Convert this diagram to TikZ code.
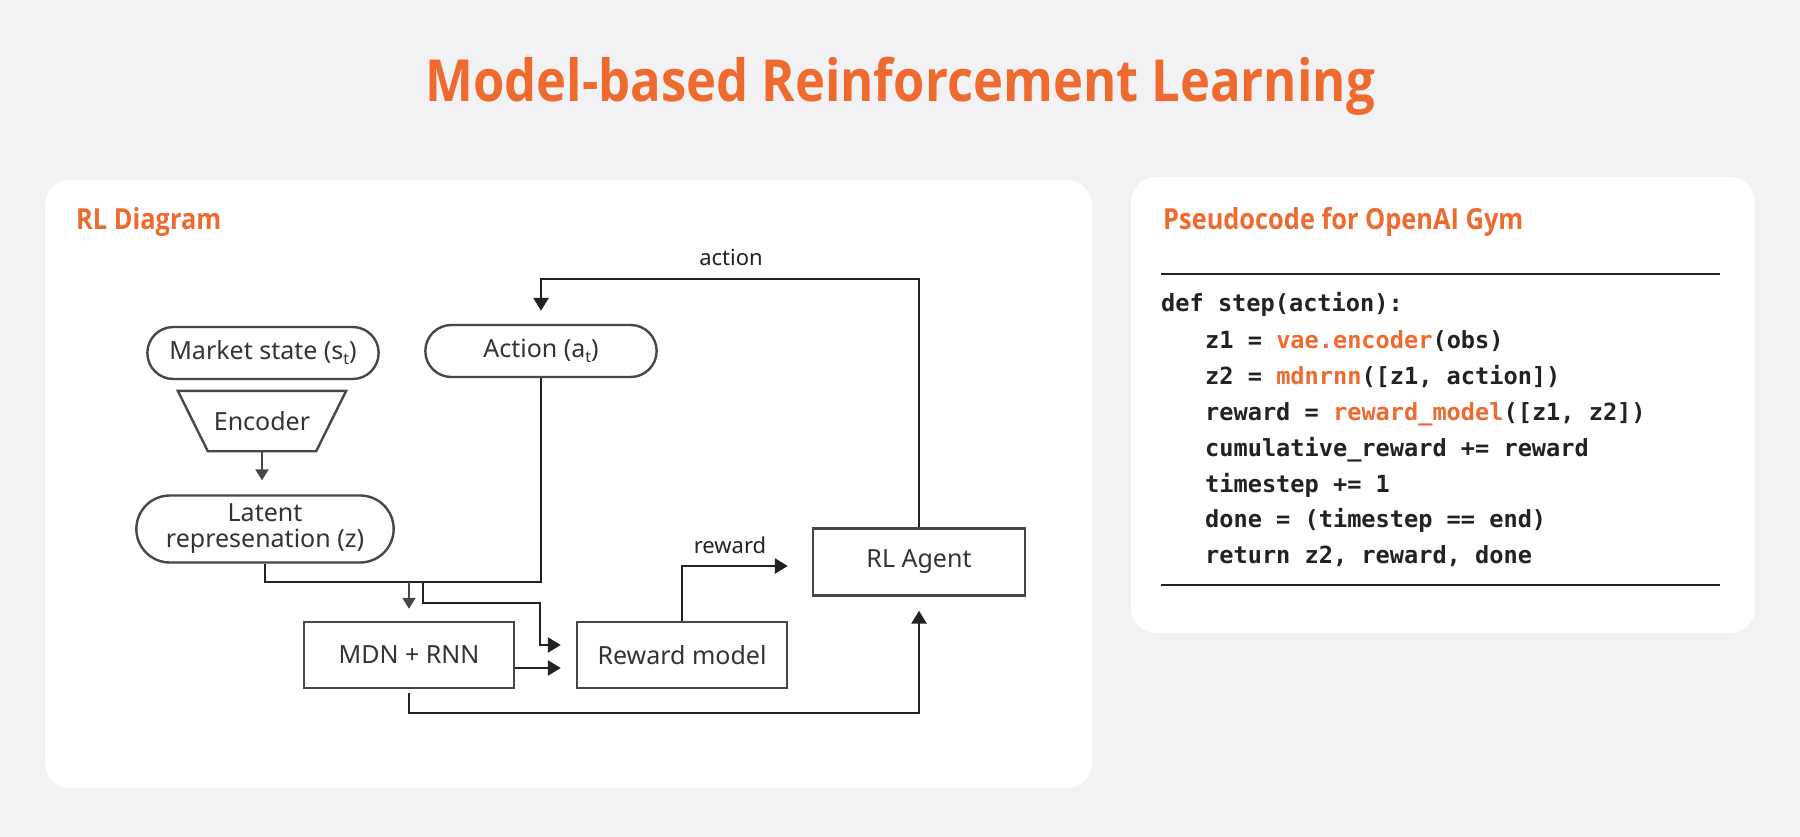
\documentclass[tikz,border=0pt]{standalone}
\usepackage{fontspec}
\setmainfont{Noto Sans}
\newfontfamily\headfont{Open Sans}[FakeStretch=0.875]
\newfontfamily\codefont{DejaVu Sans Mono}
\usetikzlibrary{arrows.meta,positioning,shapes.misc}

\definecolor{accent}{HTML}{EF6A2F}
\definecolor{canvas}{HTML}{F2F2F4}
\definecolor{edge}{HTML}{474747}
\definecolor{wire}{HTML}{222222}
\definecolor{ink}{HTML}{333333}

\newcommand{\lowsub}[1]{\raisebox{-5pt}{\fontsize{16}{16}\selectfont #1}}

\begin{document}
\begin{tikzpicture}[
  x=1pt,y=-1pt,
  >={Triangle[length=13pt,width=15pt]},
  panel/.style={fill=white,rounded corners=25pt},
  head/.style={anchor=base west,inner sep=0pt,text=accent,
    font=\headfont\bfseries\fontsize{29}{32}\selectfont},
  flowbox/.style={draw=edge,line width=2.4pt,minimum width=210pt,minimum height=66pt,
    text=ink,font=\fontsize{25}{26}\selectfont},
  pill/.style={rounded rectangle,draw=edge,line width=2.4pt,minimum height=52pt,
    text=ink,align=center,font=\fontsize{25}{26}\selectfont},
  lbl/.style={text=wire,font=\fontsize{22}{24}\selectfont},
  link/.style={draw=wire,line width=2.6pt},
  thinlink/.style={draw=edge,line width=2pt,-{Triangle[length=11pt,width=13pt]}},
  codeline/.style={anchor=base west,inner sep=0pt,text=wire,
    font=\codefont\bfseries\fontsize{23.6}{36}\selectfont},
  rule/.style={draw=wire,line width=2.8pt}
]
  % background and panels
  \fill[canvas] (0,0) rectangle (1800,837);
  \fill[panel] (45,180) rectangle (1092,788);
  \fill[panel] (1131,177) rectangle (1755,633);

  \node[anchor=base,inner sep=0pt,text=accent,
    font=\headfont\bfseries\fontsize{58}{60}\selectfont] (title) at (900,102)
    {Model-based Reinforcement Learning};
  \node[head] (diaghead) at (76,230) {RL Diagram};
  \node[head] (codehead) at (1163,230) {Pseudocode for OpenAI Gym};

  % diagram nodes
  \node[pill,minimum width=238pt] (market) at (263,353) {Market state (s\lowsub{t})};
  \node[minimum width=168pt,minimum height=60pt,inner sep=0pt,
    text=ink,font=\fontsize{25}{26}\selectfont] (encoder) at (262,421) {Encoder};
  \draw[edge,line width=2.4pt,line join=miter] (encoder.north west) -- (encoder.north east)
    -- ([xshift=-30pt]encoder.south east) -- ([xshift=30pt]encoder.south west) -- cycle;
  \node[pill,minimum width=264pt,minimum height=67pt] (latent) at (265,529) {Latent\\represenation (z)};
  \node[pill,minimum width=238pt] (action) at (541,351) {Action (a\lowsub{t})};
  \node[flowbox] (mdn) at (409,655) {MDN + RNN};
  \node[flowbox] (rewardm) at (682,655) {Reward model};
  \node[flowbox,minimum width=212pt,minimum height=67pt] (agent) at (919,562) {RL Agent};

  \coordinate (bus) at (action.south |- 0,582);
  \coordinate (fork) at (423,582);
  \coordinate (bend) at (540,603);
  \coordinate (low) at (0,713);

  % connectors
  \draw[thinlink,shorten >=14pt] (encoder.south) -- (encoder.south |- latent.north);
  \draw[link,->,shorten >=13pt] (agent.north) |- (action.north |- 0,279) -- (action.north);
  \node[lbl] (actlbl) at (731,258) {action};
  \draw[link] (latent.south) |- (bus) -- (action.south);
  \draw[thinlink,shorten >=12pt] (mdn.north |- bus) -- (mdn.north);
  \draw[link,->,shorten >=15pt] (fork) |- (bend) |- ([yshift=10pt]rewardm.west);
  \draw[link,->,shorten >=15pt] ([yshift=-13pt]mdn.east) -- ([yshift=-13pt]rewardm.west);
  \draw[link,->,shorten >=24pt] (rewardm.north) |- ([yshift=-4pt]agent.west);
  \node[lbl] (rewlbl) at (730,545) {reward};
  \draw[link,->,shorten <=4pt,shorten >=14pt] (mdn.south) |- (agent.south |- low) -- (agent.south);

  % pseudocode
  \draw[rule] (1161,274) -- (1720,274);
  \node[codeline] (c0) at (1161,312) {def step(action):};
  \node[codeline] (c1) at (1205,348) {z1 = \textcolor{accent}{vae.encoder}(obs)};
  \node[codeline] (c2) at (1205,384) {z2 = \textcolor{accent}{mdnrnn}([z1, action])};
  \node[codeline] (c3) at (1205,420) {reward = \textcolor{accent}{reward\_model}([z1, z2])};
  \node[codeline] (c4) at (1205,456) {cumulative\_reward += reward};
  \node[codeline] (c5) at (1205,492) {timestep += 1};
  \node[codeline] (c6) at (1205,527) {done = (timestep == end)};
  \node[codeline] (c7) at (1205,563) {return z2, reward, done};
  \draw[rule] (1161,585) -- (1720,585);
\end{tikzpicture}
\end{document}
